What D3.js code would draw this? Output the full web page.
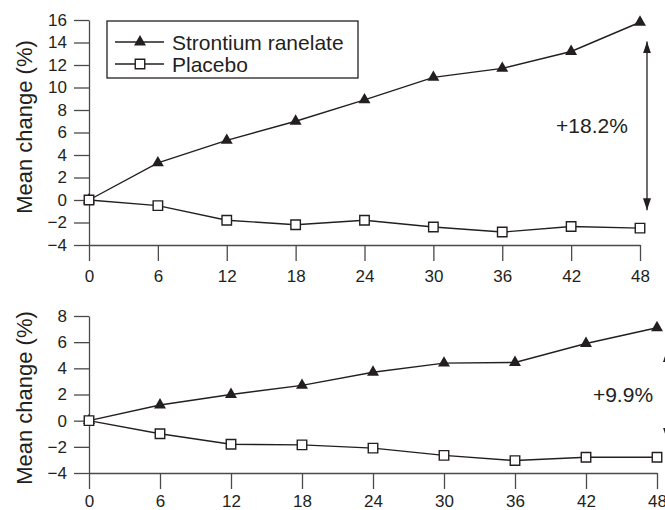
<!DOCTYPE html>
<html>
<head>
<meta charset="utf-8">
<script src="https://cdn.jsdelivr.net/npm/d3@7"></script>
<style>
  body { margin: 0; background: #fff; }
  svg text { font-family: "Liberation Sans", Arial, sans-serif; fill: #231f20; }
</style>
</head>
<body>
<svg id="chart"></svg>
<script>
// months since baseline
const months = [0, 6, 12, 18, 24, 30, 36, 42, 48];

// upper panel
const topStrontium = [0, 3.3, 5.3, 7.0, 8.9, 10.9, 11.7, 13.2, 15.8];
const topPlacebo = [0, -0.5, -1.8, -2.2, -1.8, -2.4, -2.85, -2.35, -2.5];
const topYTicks = [-4, -2, 0, 2, 4, 6, 8, 10, 12, 14, 16];

// lower panel
const bottomStrontium = [0, 1.2, 2.0, 2.7, 3.7, 4.4, 4.45, 5.9, 7.1];
const bottomPlacebo = [0, -1.0, -1.8, -1.85, -2.1, -2.65, -3.05, -2.8, -2.8];
const bottomYTicks = [-4, -2, 0, 2, 4, 6, 8];

const seriesNames = ["Strontium ranelate", "Placebo"];
const diffLabels = ["+18.2%", "+9.9%"];
const yTitle = "Mean change (%)";

const W = 665, H = 510;
const ink = "#231f20";
const axisInk = "#4a4a4a";

const svg = d3.select("#chart").attr("width", W).attr("height", H);

// arrowhead marker for the difference arrows
const defs = svg.append("defs");
["start", "end"].forEach(k => {
  defs.append("marker")
    .attr("id", "arrow-" + k)
    .attr("markerUnits", "userSpaceOnUse")
    .attr("viewBox", "0 0 12 10")
    .attr("refX", 12).attr("refY", 5)
    .attr("markerWidth", 12).attr("markerHeight", 10)
    .attr("orient", "auto-start-reverse")
    .append("path")
    .attr("d", "M0,1 L12,5 L0,9 Z")
    .attr("fill", ink);
});

const panels = [
  { sr: topStrontium, pl: topPlacebo, ticks: topYTicks, domain: [-4, 16],
    x0: 89, x1: 640, yTop: 20, yBot: 245, labPad: 9, titleY: 127,
    arrow: [14.1, -0.9], arrowDx: 7, label: diffLabels[0], labelX: 592, labelY: 6.0 },
  { sr: bottomStrontium, pl: bottomPlacebo, ticks: bottomYTicks, domain: [-4, 8],
    x0: 89, x1: 657, yTop: 316, yBot: 473, labPad: 6, titleY: 398,
    arrow: [5.4, -1.45], arrowDx: 10, label: diffLabels[1], labelX: 623, labelY: 1.4 }
];

panels.forEach((p, i) => {
  const x = d3.scaleLinear().domain([0, 48]).range([p.x0, p.x1]);
  const y = d3.scaleLinear().domain(p.domain).range([p.yBot, p.yTop]);

  // Y axis
  const ya = svg.append("g")
    .attr("transform", `translate(${p.x0},0)`)
    .call(d3.axisLeft(y).tickValues(p.ticks).tickSize(15).tickSizeOuter(0).tickPadding(7)
      .tickFormat(d => d < 0 ? "\u2212" + Math.abs(d) : d));
  ya.selectAll("text").style("font-size", "17px");

  // X axis
  const xa = svg.append("g")
    .attr("transform", `translate(0,${p.yBot})`)
    .call(d3.axisBottom(x).tickValues(months).tickSize(16).tickSizeOuter(0).tickPadding(p.labPad));
  xa.selectAll("text").style("font-size", "17px");

  [ya, xa].forEach(g => {
    g.selectAll("path.domain").attr("stroke", axisInk).attr("stroke-width", 1.3);
    g.selectAll(".tick line").attr("stroke", axisInk).attr("stroke-width", 1.3);
    g.selectAll("text").attr("fill", ink);
  });

  // axis title
  svg.append("text")
    .attr("transform", `translate(32,${p.titleY}) rotate(-90)`)
    .attr("text-anchor", "middle")
    .style("font-size", "22px")
    .text(yTitle);

  const line = d3.line().x((d, j) => x(months[j])).y(d => y(d));

  // placebo line then strontium line
  [p.pl, p.sr].forEach(vals => {
    svg.append("path").datum(vals)
      .attr("d", line)
      .attr("fill", "none")
      .attr("stroke", ink)
      .attr("stroke-width", 1.4);
  });

  svg.append("g").selectAll("path")
    .data(p.sr)
    .join("path")
    .attr("transform", (d, j) => `translate(${x(months[j])},${y(d)})`)
    .attr("d", d3.symbol().type(d3.symbolTriangle).size(62))
    .attr("fill", ink);

  svg.append("g").selectAll("path")
    .data(p.pl)
    .join("path")
    .attr("transform", (d, j) => `translate(${x(months[j])},${y(d)})`)
    .attr("d", d3.symbol().type(d3.symbolSquare).size(90))
    .attr("fill", "#fff")
    .attr("stroke", ink)
    .attr("stroke-width", 1.4);

  // difference arrow
  const ax = x(48) + p.arrowDx;
  svg.append("line")
    .attr("x1", ax).attr("x2", ax)
    .attr("y1", y(p.arrow[0])).attr("y2", y(p.arrow[1]))
    .attr("stroke", ink).attr("stroke-width", 1.3)
    .attr("marker-start", "url(#arrow-start)")
    .attr("marker-end", "url(#arrow-end)");

  svg.append("text")
    .attr("x", p.labelX).attr("y", y(p.labelY))
    .attr("text-anchor", "middle")
    .style("font-size", "21px")
    .text(p.label);
});

// legend (upper panel)
const lg = svg.append("g");
lg.append("rect")
  .attr("x", 107).attr("y", 21).attr("width", 251).attr("height", 57)
  .attr("fill", "#fff").attr("stroke", ink).attr("stroke-width", 1.3);

seriesNames.forEach((name, i) => {
  const cy = 42 + i * 22;
  lg.append("line").attr("x1", 115).attr("x2", 164).attr("y1", cy).attr("y2", cy)
    .attr("stroke", ink).attr("stroke-width", 1.4);
  const sym = lg.append("path")
    .attr("transform", `translate(140,${cy})`)
    .attr("d", d3.symbol().type(i === 0 ? d3.symbolTriangle : d3.symbolSquare).size(i === 0 ? 62 : 90));
  if (i === 0) sym.attr("fill", ink);
  else sym.attr("fill", "#fff").attr("stroke", ink).attr("stroke-width", 1.4);
  lg.append("text").attr("x", 172).attr("y", cy + 7.5)
    .style("font-size", "21px")
    .text(name);
});
</script>
</body>
</html>
